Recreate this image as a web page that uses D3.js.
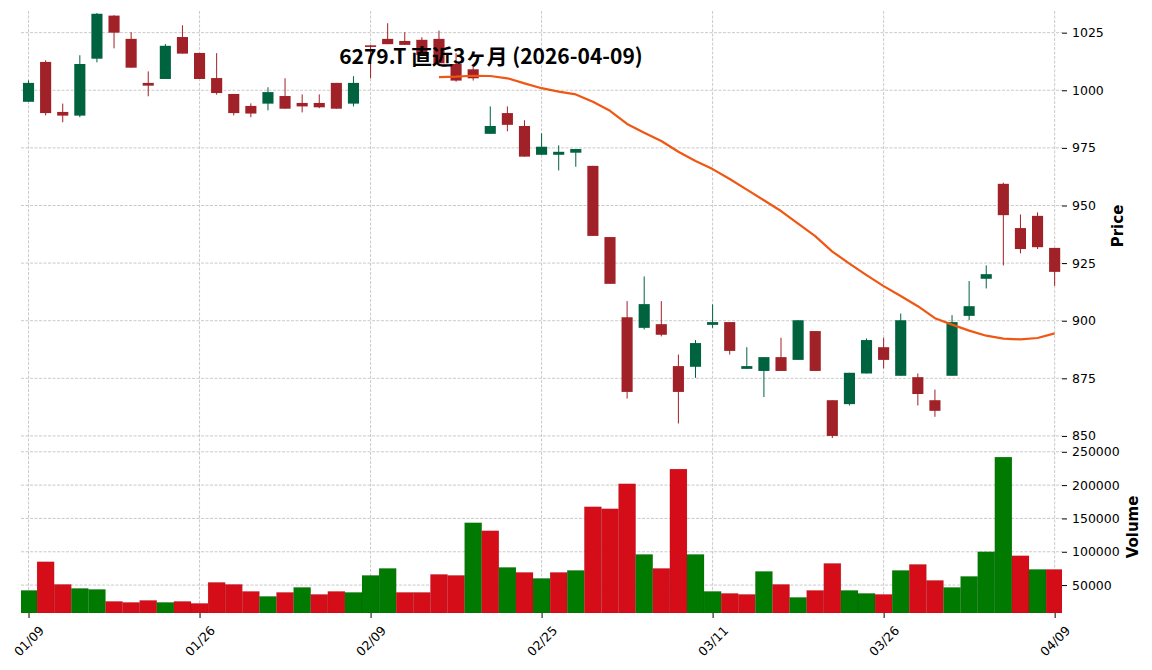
<!DOCTYPE html>
<html>
<head>
<meta charset="utf-8">
<script src="https://d3js.org/d3.v7.min.js"></script>
<style>
body { margin: 0; background: #fff; }
text { font-family: "DejaVu Sans", sans-serif; }
</style>
</head>
<body>
<script>
// 6279.T daily bars, 2026-01-09 .. 2026-04-09
var dates = ["01/09","01/13","01/14","01/15","01/16","01/19","01/20","01/21","01/22","01/23",
             "01/26","01/27","01/28","01/29","01/30","02/02","02/03","02/04","02/05","02/06",
             "02/09","02/10","02/12","02/13","02/16","02/17","02/18","02/19","02/20","02/24",
             "02/25","02/26","02/27","03/02","03/03","03/04","03/05","03/06","03/09","03/10",
             "03/11","03/12","03/13","03/16","03/17","03/18","03/19","03/23","03/24","03/25",
             "03/26","03/27","03/30","03/31","04/01","04/02","04/03","04/06","04/07","04/08",
             "04/09"];
var opens  = [995.0,1012.3,990.6,989.0,1013.7,1032.4,1022.3,1003.2,1004.9,1023.1,
              1016.2,1005.3,998.4,993.2,994.2,997.5,994.5,994.5,1003.2,994.2,
              1019.5,1022.3,1021.4,1021.9,1022.3,1011.4,1009.1,981.1,990.1,984.5,
              972.0,972.0,972.9,967.2,936.3,901.5,896.9,898.5,880.3,880.0,
              898.2,899.4,879.1,878.2,884.2,883.0,895.5,865.5,863.8,877.1,
              888.5,876.1,875.5,865.5,876.1,902.1,918.2,959.4,940.2,945.5,
              931.6];
var highs  = [1004.3,1013.0,994.2,1015.2,1033.5,1032.6,1025.2,1008.2,1020.1,1028.2,
              1016.2,1016.1,998.4,994.3,1001.3,1005.2,998.2,998.2,1003.2,1006.1,
              1019.6,1029.1,1025.2,1023.0,1025.9,1016.1,1011.0,993.0,993.0,987.0,
              981.3,976.1,974.5,967.2,936.3,908.5,919.2,908.5,885.3,891.6,
              907.1,899.4,888.5,884.2,892.6,900.2,895.5,865.5,877.4,892.3,
              892.6,903.1,877.1,870.1,902.4,917.2,924.0,959.9,946.1,947.0,
              931.6];
var lows   = [995.0,989.1,986.1,988.3,1012.1,1018.2,1009.8,997.4,1004.9,1015.9,
              1004.9,998.1,989.1,988.3,991.3,992.0,990.4,992.2,992.0,993.0,
              1005.2,1020.0,1019.7,1015.3,1011.7,1003.7,1004.2,981.1,982.2,971.2,
              972.0,965.2,966.8,936.8,916.0,866.2,896.2,893.2,855.4,875.2,
              896.9,885.3,879.1,866.9,878.2,883.0,878.2,849.1,863.2,877.1,
              879.3,876.1,863.2,858.3,876.1,900.2,914.0,924.0,929.2,931.1,
              915.1];
var closes = [1003.2,990.1,989.0,1011.4,1033.2,1025.0,1009.8,1002.0,1019.3,1015.9,
              1004.9,998.8,990.1,989.9,999.2,992.0,993.0,992.6,992.0,1003.2,
              1018.8,1020.0,1019.7,1015.3,1011.7,1004.2,1005.2,984.5,985.0,971.2,
              975.5,973.3,974.5,936.8,916.0,869.1,907.2,893.9,869.1,890.3,
              899.4,886.9,880.3,884.2,878.2,900.2,878.2,850.0,877.4,891.6,
              883.0,900.2,868.2,860.9,899.4,906.3,920.2,945.8,931.1,931.9,
              921.2];
var volumes = [42000,85000,51000,45000,43500,25500,24000,27000,24000,25500,
               22500,54000,51000,40500,33000,39000,46500,36000,40500,39000,
               64500,75000,39000,39000,66000,64500,143500,131500,76500,69000,
               60000,69000,72000,167500,164500,202000,96000,75000,224000,96000,
               40500,37500,36000,70500,51000,31500,42000,82500,42000,37500,
               36000,72000,81000,57000,46500,63000,100000,242000,94000,73500,
               73500];
// 25-day moving average (first 24 days have none)
var ma25 = [null,null,null,null,null,null,null,null,null,null,
            null,null,null,null,null,null,null,null,null,null,
            null,null,null,null,1005.7,1005.9,1006.3,1006.2,1005.2,1003.0,
            1000.9,999.4,998.2,995.0,991.1,985.4,981.6,978.0,973.3,969.3,
            965.8,961.5,956.9,952.3,947.6,942.1,936.7,930.0,924.8,919.8,
            915.0,910.7,906.3,901.1,898.3,895.7,893.5,892.2,891.9,892.5,
            894.5];

var xTickIdx = [0, 10, 20, 30, 40, 50, 60];
var priceTicks = [850, 875, 900, 925, 950, 975, 1000, 1025];
var volTicks = [50000, 100000, 150000, 200000, 250000];

var w = 1152, h = 670;
var left = 21, right = 1062;
var priceTop = 11, priceBottom = 441, volBottom = 613;

var upCandle = "#006340", downCandle = "#a02128";
var upVol = "#007a00", downVol = "#d50d18";
var maColor = "#ef5714";

var x = d3.scaleLinear().domain([-0.44, 60.43]).range([left, right]);
var yPrice = d3.scaleLinear().domain([847.8, 1034.4]).range([priceBottom, priceTop]);
var yVol = d3.scaleLinear().domain([8100, 266200]).range([volBottom, priceBottom]);

var svg = d3.select("body").append("svg").attr("width", w).attr("height", h);

var defs = svg.append("defs");
defs.append("clipPath").attr("id", "clipP").append("rect")
    .attr("x", left).attr("y", priceTop).attr("width", right - left).attr("height", priceBottom - priceTop);
defs.append("clipPath").attr("id", "clipV").append("rect")
    .attr("x", left).attr("y", priceBottom).attr("width", right - left).attr("height", volBottom - priceBottom);

// grid
var grid = svg.append("g").attr("stroke", "#c4c4c4").attr("stroke-width", 0.9)
    .attr("stroke-dasharray", "3,1.5").attr("fill", "none");
grid.selectAll(".vg").data(xTickIdx).enter().append("line")
    .attr("x1", function(d){ return x(d); }).attr("x2", function(d){ return x(d); })
    .attr("y1", priceTop).attr("y2", volBottom);
grid.selectAll(".hp").data(priceTicks).enter().append("line")
    .attr("x1", left).attr("x2", right)
    .attr("y1", function(d){ return yPrice(d); }).attr("y2", function(d){ return yPrice(d); });
grid.selectAll(".hv").data(volTicks).enter().append("line")
    .attr("x1", left).attr("x2", right)
    .attr("y1", function(d){ return yVol(d); }).attr("y2", function(d){ return yVol(d); });

// volume bars, coloured by close vs previous close
var step = x(1) - x(0);
svg.append("g").attr("clip-path", "url(#clipV)")
  .selectAll("rect").data(volumes).enter().append("rect")
    .attr("x", function(d, i){ return x(i) - step / 2; })
    .attr("width", step)
    .attr("y", function(d){ return yVol(d); })
    .attr("height", function(d){ return volBottom - yVol(d); })
    .attr("fill", function(d, i){
        var up = i == 0 ? opens[0] < closes[0] : closes[i - 1] < closes[i];
        return up ? upVol : downVol; })
    .attr("stroke", "rgba(0,0,0,0.12)").attr("stroke-width", 0.6);

// candles
var idx = d3.range(dates.length);
var cg = svg.append("g").attr("clip-path", "url(#clipP)");
var bodyW = step * 0.65;
cg.selectAll(".wick").data(idx).enter().append("line")
    .attr("x1", function(i){ return x(i); }).attr("x2", function(i){ return x(i); })
    .attr("y1", function(i){ return yPrice(highs[i]); })
    .attr("y2", function(i){ return yPrice(lows[i]); })
    .attr("stroke", function(i){ return opens[i] < closes[i] ? upCandle : downCandle; })
    .attr("stroke-width", 1);
cg.selectAll(".body").data(idx).enter().append("rect")
    .attr("x", function(i){ return x(i) - bodyW / 2; })
    .attr("width", bodyW)
    .attr("y", function(i){ return yPrice(Math.max(opens[i], closes[i])); })
    .attr("height", function(i){
        return Math.max(1, yPrice(Math.min(opens[i], closes[i])) - yPrice(Math.max(opens[i], closes[i]))); })
    .attr("fill", function(i){ return opens[i] < closes[i] ? upCandle : downCandle; });

// moving average
var maLine = d3.line()
    .defined(function(i){ return ma25[i] != null; })
    .x(function(i){ return x(i); })
    .y(function(i){ return yPrice(ma25[i]); });
cg.append("path").attr("d", maLine(idx))
    .attr("fill", "none").attr("stroke", maColor).attr("stroke-width", 2.2)
    .attr("stroke-linejoin", "round");

// axes
var fmt = d3.format("d");
var pAxis = svg.append("g").attr("transform", "translate(" + right + ",0)")
    .call(d3.axisRight(yPrice).tickValues(priceTicks).tickFormat(fmt).tickSize(5).tickPadding(5));
var vAxis = svg.append("g").attr("transform", "translate(" + right + ",0)")
    .call(d3.axisRight(yVol).tickValues(volTicks).tickFormat(fmt).tickSize(5).tickPadding(5));
var xAxis = svg.append("g").attr("transform", "translate(0," + volBottom + ")")
    .call(d3.axisBottom(x).tickValues(xTickIdx).tickFormat(function(i){ return dates[i]; }).tickSize(5));

[pAxis, vAxis, xAxis].forEach(function(a){
    a.select(".domain").remove();
    a.selectAll("text").attr("font-size", 12.5).attr("font-family", "DejaVu Sans").attr("fill", "#000");
    a.selectAll("line").attr("stroke", "#000").attr("stroke-width", 1);
});
xAxis.selectAll("text")
    .attr("y", 0).attr("dy", 0)
    .attr("text-anchor", "middle").attr("dominant-baseline", "central")
    .attr("transform", "translate(0,28) rotate(-45)");

// labels
svg.append("text")
    .attr("transform", "translate(1118," + ((priceTop + priceBottom) / 2) + ") rotate(-90)")
    .attr("text-anchor", "middle").attr("dominant-baseline", "central")
    .attr("font-size", 15).attr("font-weight", "bold")
    .text("Price");
svg.append("text")
    .attr("transform", "translate(1132.5," + ((priceBottom + volBottom) / 2) + ") rotate(-90)")
    .attr("text-anchor", "middle").attr("dominant-baseline", "central")
    .attr("font-size", 15).attr("font-weight", "bold")
    .text("Volume");

svg.append("text")
    .attr("x", 491).attr("y", 63.5)
    .attr("text-anchor", "middle")
    .style("font-family", "'Noto Sans CJK JP', sans-serif")
    .attr("font-size", 21).attr("font-weight", "bold")
    .text("6279.T 直近3ヶ月 (2026-04-09)");
</script>
</body>
</html>
